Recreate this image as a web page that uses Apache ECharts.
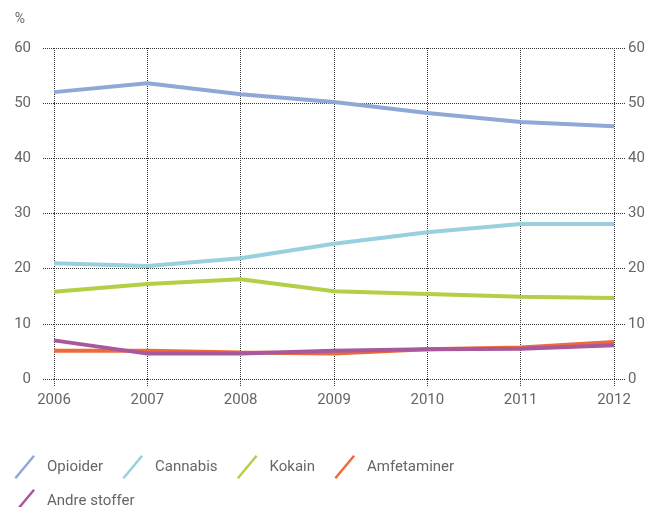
<!DOCTYPE html>
<html><head><meta charset="utf-8">
<script src="https://cdn.jsdelivr.net/npm/echarts@6/dist/echarts.min.js"></script>
<style>html,body{margin:0;padding:0;background:#fff}#c{width:648px;height:507px}</style>
</head><body><div id="c"></div>
<script>
var years = ['2006','2007','2008','2009','2010','2011','2012'];
var seriesNames = ['Opioider','Cannabis','Kokain','Amfetaminer','Andre stoffer'];
var opioider = [52.0, 53.6, 51.6, 50.2, 48.2, 46.6, 45.8];
var cannabis = [21.0, 20.5, 21.9, 24.5, 26.6, 28.1, 28.1];
var kokain = [15.8, 17.2, 18.1, 15.9, 15.4, 14.9, 14.7];
var amfetaminer = [5.1, 5.1, 4.8, 4.6, 5.4, 5.7, 6.7];
var andre = [7.0, 4.6, 4.6, 5.1, 5.4, 5.5, 6.1];
var yTicks = [0, 10, 20, 30, 40, 50, 60];
var colors = ['#8fa8d6', '#98d0de', '#b3cf45', '#ee6a3a', '#a9589b'];
var values = [opioider, cannabis, kokain, amfetaminer, andre];

var font = 'Roboto';
var gridLine = {type: 'dotted', color: '#333', width: 1};
var slash = 'path://M0,0 L0.1,0 L0.1,0.1 Z M10,28 L12,30 L32,2 L30,0 Z';

var chart = echarts.init(document.getElementById('c'));
chart.setOption({
  animation: false,
  grid: {left: 54, right: 34, top: 48, bottom: 128},
  legend: {
    left: 0, top: 450, width: 520,
    itemWidth: 30, itemHeight: 24, itemGap: 10,
    icon: slash, symbolKeepAspect: false,
    textStyle: {fontFamily: font, fontSize: 15, color: '#666', padding: [0, 0, 0, 7]},
    data: seriesNames
  },
  xAxis: [{
    type: 'category', data: years, boundaryGap: false,
    axisLine: {show: false},
    axisTick: {show: true, length: 8, lineStyle: gridLine},
    axisLabel: {fontFamily: font, fontSize: 15, color: '#666', margin: 14},
    splitLine: {show: true, lineStyle: gridLine}
  }, {
    type: 'category', data: years, boundaryGap: false, position: 'top',
    axisLine: {show: false},
    axisTick: {show: true, length: 8, lineStyle: gridLine},
    axisLabel: {show: false},
    splitLine: {show: false}
  }],
  yAxis: [{
    type: 'value', min: 0, max: 60, interval: 10,
    name: '%', nameLocation: 'end', nameGap: 22,
    nameTextStyle: {fontFamily: font, fontSize: 14, color: '#666', align: 'right', padding: [0, 29, 0, 0]},
    axisLine: {show: false},
    axisTick: {show: true, length: 11, lineStyle: gridLine},
    axisLabel: {fontFamily: font, fontSize: 15, color: '#666', margin: 23},
    splitLine: {show: true, lineStyle: gridLine}
  }, {
    type: 'value', min: 0, max: 60, interval: 10, position: 'right',
    axisLine: {show: false},
    axisTick: {show: true, length: 11, lineStyle: gridLine},
    axisLabel: {fontFamily: font, fontSize: 15, color: '#666', margin: 14},
    splitLine: {show: false}
  }],
  series: seriesNames.map(function (n, i) {
    return {
      name: n, type: 'line', data: values[i], symbol: 'none',
      lineStyle: {width: 4, color: colors[i]}, itemStyle: {color: colors[i]}
    };
  })
});
</script></body></html>
